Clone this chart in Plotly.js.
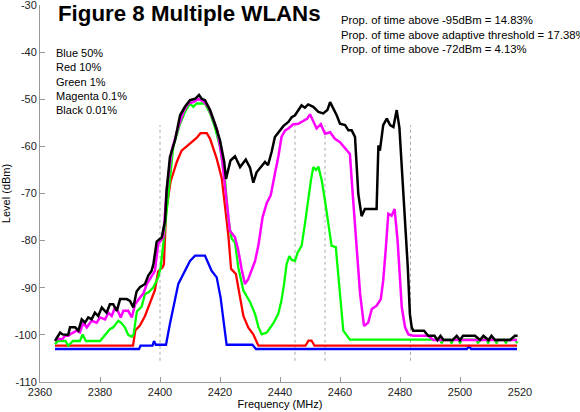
<!DOCTYPE html>
<html>
<head>
<meta charset="utf-8">
<script src="https://cdn.plot.ly/plotly-3.0.1.min.js"></script>
<style>html,body{margin:0;padding:0;background:#fff;}#chart{width:580px;height:412px;}</style>
</head>
<body>
<div id="chart"></div>
<script>
// ---------- data ----------
const blueF = [2365, 2393, 2393.5, 2397.5, 2398, 2398.6, 2402, 2403.3, 2406.1, 2408.3, 2410, 2411.7, 2415, 2417.2, 2418.9, 2420.2, 2421.1, 2422.2, 2430.8, 2432, 2502.3, 2503, 2503.7, 2519];
const blueL = [-103, -103, -102.3, -102.3, -101.3, -102.1, -102.1, -97.7, -89.2, -86.4, -84.3, -83.2, -83.2, -86.4, -87.8, -92.1, -97, -102.1, -102.1, -103, -103, -102.4, -103, -103];

const redF = [2365, 2391, 2391.8, 2393.3, 2395, 2396.7, 2398.3, 2399.4, 2400.8, 2401.3, 2402, 2403.5, 2405.6, 2407.2, 2408.9, 2410.6, 2412.2, 2413.5, 2415.6, 2416.7, 2417.8, 2418.9, 2420.6, 2421.7, 2422.8, 2423.7, 2425.3, 2426.7, 2427.8, 2429.4, 2431.1, 2432.8, 2448.5, 2449.5, 2450.5, 2451.5, 2519];
const redL = [-102.3, -102.3, -99, -98, -96, -93.1, -90.5, -86.5, -85.7, -85, -74, -67.5, -63.3, -60.9, -60, -59.2, -58.2, -57.2, -57.2, -58.4, -60.5, -62.6, -66.8, -72.9, -79, -86, -87.1, -92.1, -96, -98.4, -99.9, -102.3, -102.3, -101.2, -101.2, -102.3, -102.3];

const greenF = [
  2365, 2366, 2368.5, 2369.4, 2371, 2373.3, 2374.2, 2375.3, 2380, 2381.7,
  2383.3, 2384.4, 2386.1, 2387, 2388.3, 2389.4, 2390.6, 2391.2, 2392.3, 2393.9,
  2395, 2396.1, 2397.8, 2399.4, 2400.2, 2401.1, 2402.8, 2404.4, 2406.7, 2408.3,
  2410, 2411.1, 2412.2, 2415, 2416.7, 2418.3, 2420, 2421.7, 2422.8, 2423.9,
  2425, 2426.1, 2427.8, 2430, 2431.7, 2432.8, 2433.9, 2435.6, 2437.8, 2439.4,
  2440.4, 2441.3, 2442.2, 2443.1, 2443.9, 2445, 2445.9, 2447.2, 2448.3, 2449.4,
  2450.3, 2451.1, 2452, 2452.8, 2453.9, 2455, 2456.1, 2457.2, 2458.6, 2459.4,
  2460.2, 2461.1, 2463.3, 2493.4, 2493.9, 2494.4, 2496.7, 2497.2, 2497.7, 2499.5,
  2500, 2500.5, 2505.5, 2506, 2506.5, 2508.9, 2509.4, 2509.9, 2511.7, 2512.2,
  2512.7, 2514.8, 2515.3, 2515.8, 2518.5, 2519];
const greenL = [
  -102, -101.3, -101.3, -102.3, -101.3, -101.3, -99.9, -101.3, -101.3, -99.9,
  -98.8, -98.4, -97, -97.4, -98.4, -100, -100.4, -99.9, -95, -94,
  -91.3, -91, -89.9, -87.8, -85.7, -80.7, -69.4, -60.1, -55.2, -52.7,
  -50.9, -51.6, -50.9, -50.9, -53, -55.9, -60.1, -67.2, -75.7, -79.6,
  -80.4, -85.7, -90.6, -93, -95.6, -98.3, -99.9, -99.5, -97.5, -95.6,
  -93, -89.5, -85, -83.3, -84.1, -84.3, -82.5, -81.1, -76.5, -70.8,
  -67.2, -64.4, -65, -64.3, -67.2, -71.5, -76.5, -81.1, -81.4, -87.1,
  -92.8, -99.1, -101, -101, -101.8, -101, -101, -101.8, -101, -101,
  -101.8, -101, -101, -101.8, -101, -101, -101.8, -101, -101, -101.8,
  -101, -101, -101.8, -101, -101, -101.8];

const magentaF = [
  2365, 2367.5, 2368.3, 2369.4, 2370, 2372.2, 2373.3, 2374.4, 2375.6, 2377.2,
  2378.9, 2380, 2381.7, 2382.8, 2383.9, 2385, 2386, 2386.9, 2387.8, 2389.4,
  2390.6, 2391.7, 2393.3, 2394.4, 2395.6, 2397.2, 2398.3, 2399.4, 2401.1, 2402.2,
  2403.9, 2406.1, 2407.8, 2409.4, 2411.1, 2412.8, 2414.4, 2416.1, 2417.8, 2419.1,
  2420.6, 2422.2, 2423.3, 2425, 2426.1, 2427.2, 2428.3, 2429.4, 2430.5, 2431.7,
  2432.8, 2434.2, 2435.6, 2436.9, 2438.3, 2439.5, 2440.5, 2441.7, 2442.8, 2444.4,
  2446.1, 2447.8, 2449.1, 2450, 2451.1, 2452.2, 2453.6, 2455, 2456.7, 2458.3,
  2460, 2461.7, 2463.3, 2464.4, 2465.6, 2466.7, 2468, 2469.4, 2470.6, 2472.2,
  2473.6, 2474.4, 2475.3, 2476.1, 2477.2, 2478.2, 2479.2, 2480, 2480.6, 2481.7,
  2482.8, 2484.4, 2489.4, 2491.1, 2519];
const magentaL = [
  -100.9, -100.9, -100.2, -100.2, -99.9, -99.1, -99.5, -97.4, -98.4, -97,
  -97.4, -96.3, -96.7, -95.3, -96, -94.2, -95, -96.3, -94.9, -94.9,
  -96.3, -93.5, -92.1, -91.3, -89.2, -87.4, -86.4, -80.7, -79.3, -69.4,
  -60.9, -55.9, -52.7, -50.9, -50.6, -50, -50.4, -51.6, -54.5, -56.6,
  -62.3, -72.2, -77.9, -79.3, -82.1, -86, -89.2, -88.2, -86.5, -84.3,
  -81, -75, -72, -70.4, -65.8, -62, -58, -56.6, -56.2, -55.3,
  -55.2, -54.5, -54.1, -53.2, -54.8, -56.2, -55.3, -57.3, -57, -58.4,
  -59.1, -60.5, -61.6, -71.5, -82.1, -91.3, -98.1, -97.4, -94.5, -93.8,
  -92.4, -88.5, -81.4, -74.3, -74.7, -73.3, -80, -87.8, -94.2, -98.4,
  -99.9, -100.2, -100.2, -101.1, -101.1];

const blackF = [
  2365, 2366.7, 2367.5, 2369.4, 2370, 2371.7, 2372.8, 2373.9, 2375, 2376.1,
  2377.2, 2378.3, 2379.4, 2380.6, 2382.2, 2383.3, 2384.4, 2385.6, 2386.7, 2388.9,
  2390, 2391.1, 2392.2, 2393.3, 2395, 2396.1, 2397.2, 2397.8, 2398.9, 2400.6,
  2401.7, 2402.2, 2403.3, 2405, 2406.7, 2408.3, 2410, 2411.7, 2413, 2413.9,
  2415, 2416.7, 2418.3, 2420, 2421.4, 2422, 2423.5, 2425, 2426.7, 2428.6,
  2430, 2431.1, 2432.2, 2433.9, 2435, 2436, 2437.2, 2438.3, 2439.4, 2441.1,
  2442.8, 2443.9, 2445, 2446.1, 2447.2, 2448.3, 2449.4, 2451.1, 2452.8, 2454.4,
  2455.8, 2456.7, 2457.8, 2458.9, 2460, 2461.7, 2462.8, 2463.9, 2465, 2466.1,
  2467.2, 2468.3, 2472.2, 2472.8, 2473.3, 2474.4, 2475.6, 2476.7, 2477.8, 2478.9,
  2479.8, 2480.6, 2481.7, 2482.6, 2483.3, 2483.9, 2484.4, 2488, 2489.4, 2491.5,
  2492.5, 2493.5, 2494.5, 2497.5, 2498.9, 2500, 2501, 2505, 2506.7, 2507.8,
  2509.5, 2510.5, 2511.7, 2516.7, 2518.3, 2519.2];
const blackL = [
  -101.3, -99.5, -99.9, -100, -98.4, -98.4, -99.1, -96.7, -97.4, -96.3,
  -96.7, -95.3, -96, -94.2, -95.3, -93.5, -93.5, -94.9, -92.4, -92.4,
  -92.8, -94.2, -90.8, -89.9, -89.2, -87.4, -86.4, -85, -80.2, -79.3,
  -75.7, -69.4, -62.3, -58.7, -53.4, -51.6, -50.2, -49.9, -49.1, -49.9,
  -50.2, -52.3, -55.2, -58.7, -63.3, -66.9, -63, -62.1, -64.4, -62.8,
  -64.5, -67.7, -65.5, -64, -63.3, -64, -61.2, -58, -57, -55.7,
  -54.8, -53.8, -53.4, -52.3, -51.3, -51.8, -51.1, -51.6, -52.7, -53,
  -52.3, -50.6, -52, -53.4, -55.2, -55.5, -56.6, -56.6, -58, -70.1,
  -74.8, -73.3, -73.3, -59.8, -60.9, -55.5, -54.1, -55.5, -55.9, -52.3,
  -56, -64.4, -75, -85.7, -95.6, -98.4, -99.1, -99.1, -100.2, -100.2,
  -101.1, -100.2, -101.1, -101.1, -100.2, -101.1, -100.2, -100.2, -101.1, -100.2,
  -101.1, -100.2, -101.1, -101.1, -100.2, -100.2];

// channel marker lines (MHz) and their vertical extent (dBm)
const markerFreqs = [2400, 2445, 2455, 2483.5];
const markerTop = -55.5;
const markerBottom = -105.5;

const xTicks = [2360, 2380, 2400, 2420, 2440, 2460, 2480, 2500, 2520];
const yTicks = [-110, -100, -90, -80, -70, -60, -50, -40, -30];
const yTickText = ['-110', '-100', '-90', '-80', '-70', '-60', '-50', '-40', '-30'];

const titleText = 'Figure 8 Multiple WLANs';
const legendLines = ['Blue 50%', 'Red 10%', 'Green 1%', 'Magenta 0.1%', 'Black 0.01%'];
const statLines = ['Prop. of time above -95dBm = 14.83%', 'Prop. of time above adaptive threshold = 17.38%', 'Prop. of time above -72dBm = 4.13%'];

// ---------- chart ----------
const FONT = 'Liberation Sans, Arial, Helvetica, sans-serif';
function series(x, y, color, w) {
  return {x: x, y: y, type: 'scatter', mode: 'lines', line: {color: color, width: w}, hoverinfo: 'skip', showlegend: false};
}
const traces = [
  series(blueF, blueL, '#0000ff', 2.3),
  series(redF, redL, '#ff0000', 2.3),
  series(greenF, greenL, '#00ff00', 2.3),
  series(magentaF, magentaL, '#ff00ff', 2.5),
  series(blackF, blackL, '#000000', 2.5)
];

const shapes = markerFreqs.map(f => ({
  type: 'line', xref: 'x', yref: 'y', x0: f, x1: f, y0: markerBottom, y1: markerTop,
  line: {color: '#a8a8a8', width: 1, dash: 'dot'}, layer: 'below'
}));

const layout = {
  width: 580, height: 412,
  margin: {l: 40, r: 60, t: 5, b: 30},
  paper_bgcolor: '#ffffff', plot_bgcolor: '#ffffff',
  font: {family: FONT, size: 11, color: '#000'},
  showlegend: false,
  xaxis: {
    range: [2360, 2520], tickvals: xTicks, ticks: 'inside', ticklen: 5, tickcolor: '#999',
    showline: true, linecolor: '#999', linewidth: 1, showgrid: false, zeroline: false,
    ticklabeloverflow: 'allow',
    tickfont: {family: FONT, size: 11, color: '#222'},
    title: {text: 'Frequency (MHz)', font: {family: FONT, size: 11, color: '#000'}, standoff: 2}
  },
  yaxis: {
    range: [-110, -30], tickvals: yTicks, ticktext: yTickText, ticks: 'inside', ticklen: 5, tickcolor: '#999',
    showline: true, linecolor: '#999', linewidth: 1, showgrid: false, zeroline: false,
    ticklabeloverflow: 'allow',
    tickfont: {family: FONT, size: 11, color: '#222'},
    title: {text: 'Level (dBm)', font: {family: FONT, size: 11, color: '#000'}, standoff: 4}
  },
  shapes: shapes,
  annotations: [
    {xref: 'paper', yref: 'paper', x: 0.035, y: 0.977, xanchor: 'left', yanchor: 'middle',
     text: '<b>' + titleText + '</b>', showarrow: false, borderpad: 0,
     font: {family: FONT, size: 22.3, color: '#000'}},
    {xref: 'paper', yref: 'paper', x: 0.031, y: 0.798, xanchor: 'left', yanchor: 'middle', align: 'left',
     text: legendLines.join('<br>'), showarrow: false, borderpad: 0,
     font: {family: FONT, size: 11, color: '#000'}},
    {xref: 'paper', yref: 'paper', x: 0.625, y: 0.9215, xanchor: 'left', yanchor: 'middle', align: 'left',
     text: statLines.join('<br>'), showarrow: false, borderpad: 0,
     font: {family: FONT, size: 11.3, color: '#000'}}
  ]
};

Plotly.newPlot('chart', traces, layout, {displayModeBar: false, staticPlot: true});
</script>
</body>
</html>
